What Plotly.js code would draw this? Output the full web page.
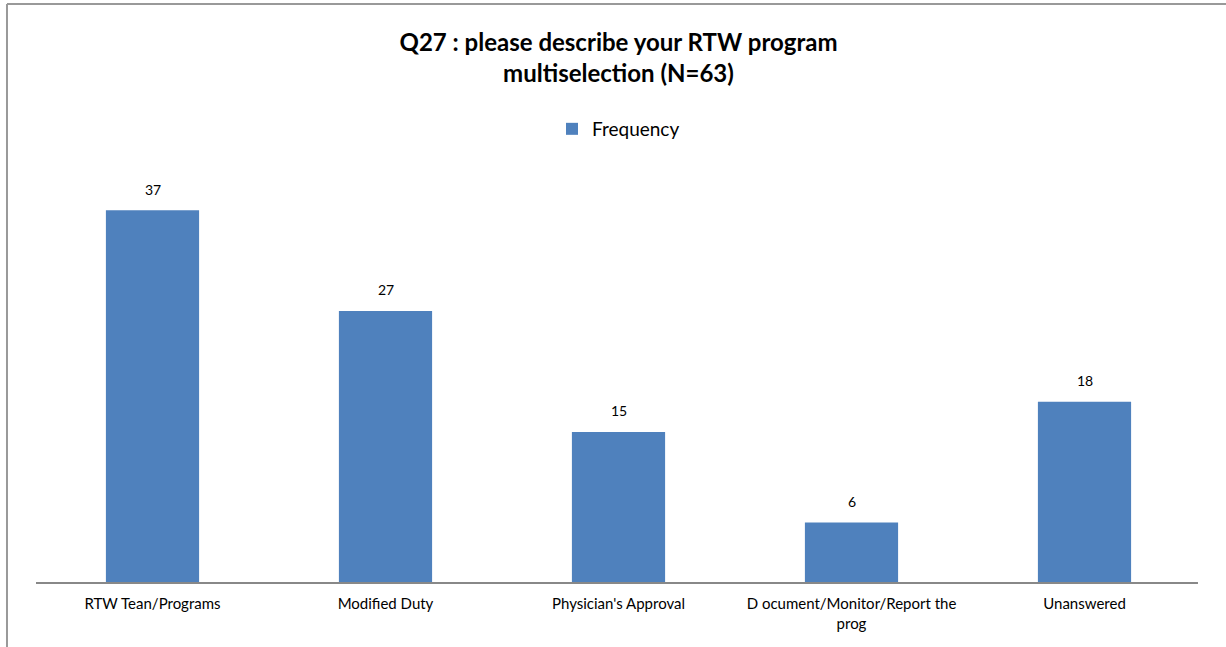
<!DOCTYPE html>
<html>
<head>
<meta charset="utf-8">
<script src="https://cdn.plot.ly/plotly-3.0.1.min.js"></script>
<style>html,body{margin:0;padding:0;background:#fff;}#chart{width:1226px;height:647px;}</style>
</head>
<body>
<div id="chart"></div>
<script>
const categories = ["RTW Tean/Programs", "Modified Duty", "Physician's Approval", "D ocument/Monitor/Report the<br>prog", "Unanswered"];
const frequency = [37, 27, 15, 6, 18];
const seriesName = "Frequency";
const titleText = "Q27 : please describe your RTW program<br>multiselection (N=63)";

const FONT = "Lato, 'Open Sans', sans-serif";

const trace = {
  type: 'bar',
  x: categories,
  y: frequency,
  name: seriesName,
  marker: {color: '#4F81BD'},
  width: 0.4,
  hoverinfo: 'x+y'
};

const annotations = categories.map((c, i) => ({
  x: c, y: frequency[i], xref: 'x', yref: 'y',
  text: String(frequency[i]), showarrow: false,
  yshift: 21, font: {family: FONT, size: 14, color: '#000'}
}));

const layout = {
  width: 1226, height: 647,
  margin: {l: 36, r: 25, t: 180, b: 64},
  paper_bgcolor: '#fff', plot_bgcolor: '#fff',
  font: {family: FONT, color: '#000'},
  title: {
    text: titleText, x: 0.5, xref: 'paper', y: 0.921, yref: 'container',
    xanchor: 'center', yanchor: 'middle',
    font: {family: FONT, size: 24, color: '#000', weight: 'bold'}
  },
  showlegend: true,
  legend: {
    orientation: 'h', x: 0.5, xanchor: 'center', y: 1.1266, yanchor: 'middle',
    font: {family: FONT, size: 19, color: '#000'}, itemwidth: 30
  },
  xaxis: {
    type: 'category', showgrid: false, zeroline: false,
    showline: false,
    ticks: '', ticklabelstandoff: 10, tickfont: {family: FONT, size: 15, color: '#000'},
    fixedrange: true
  },
  yaxis: {
    range: [0, 40], visible: false, showgrid: false, zeroline: false, fixedrange: true
  },
  bargap: 0.6,
  annotations: annotations,
  shapes: [
    {type: 'line', xref: 'paper', yref: 'paper', x0: 0, x1: 0.9974, y0: 0, y1: 0,
     line: {color: '#888', width: 2}, layer: 'above'},
    {type: 'line', xref: 'paper', yref: 'paper', x0: -0.0249, x1: -0.0249, y0: -0.2, y1: 1.4367,
     line: {color: '#999', width: 2}},
    {type: 'line', xref: 'paper', yref: 'paper', x0: -0.0249, x1: 1.1, y0: 1.4367, y1: 1.4367,
     line: {color: '#999', width: 2}}
  ]
};

Plotly.newPlot('chart', [trace], layout, {displayModeBar: false, staticPlot: true});
</script>
</body>
</html>
